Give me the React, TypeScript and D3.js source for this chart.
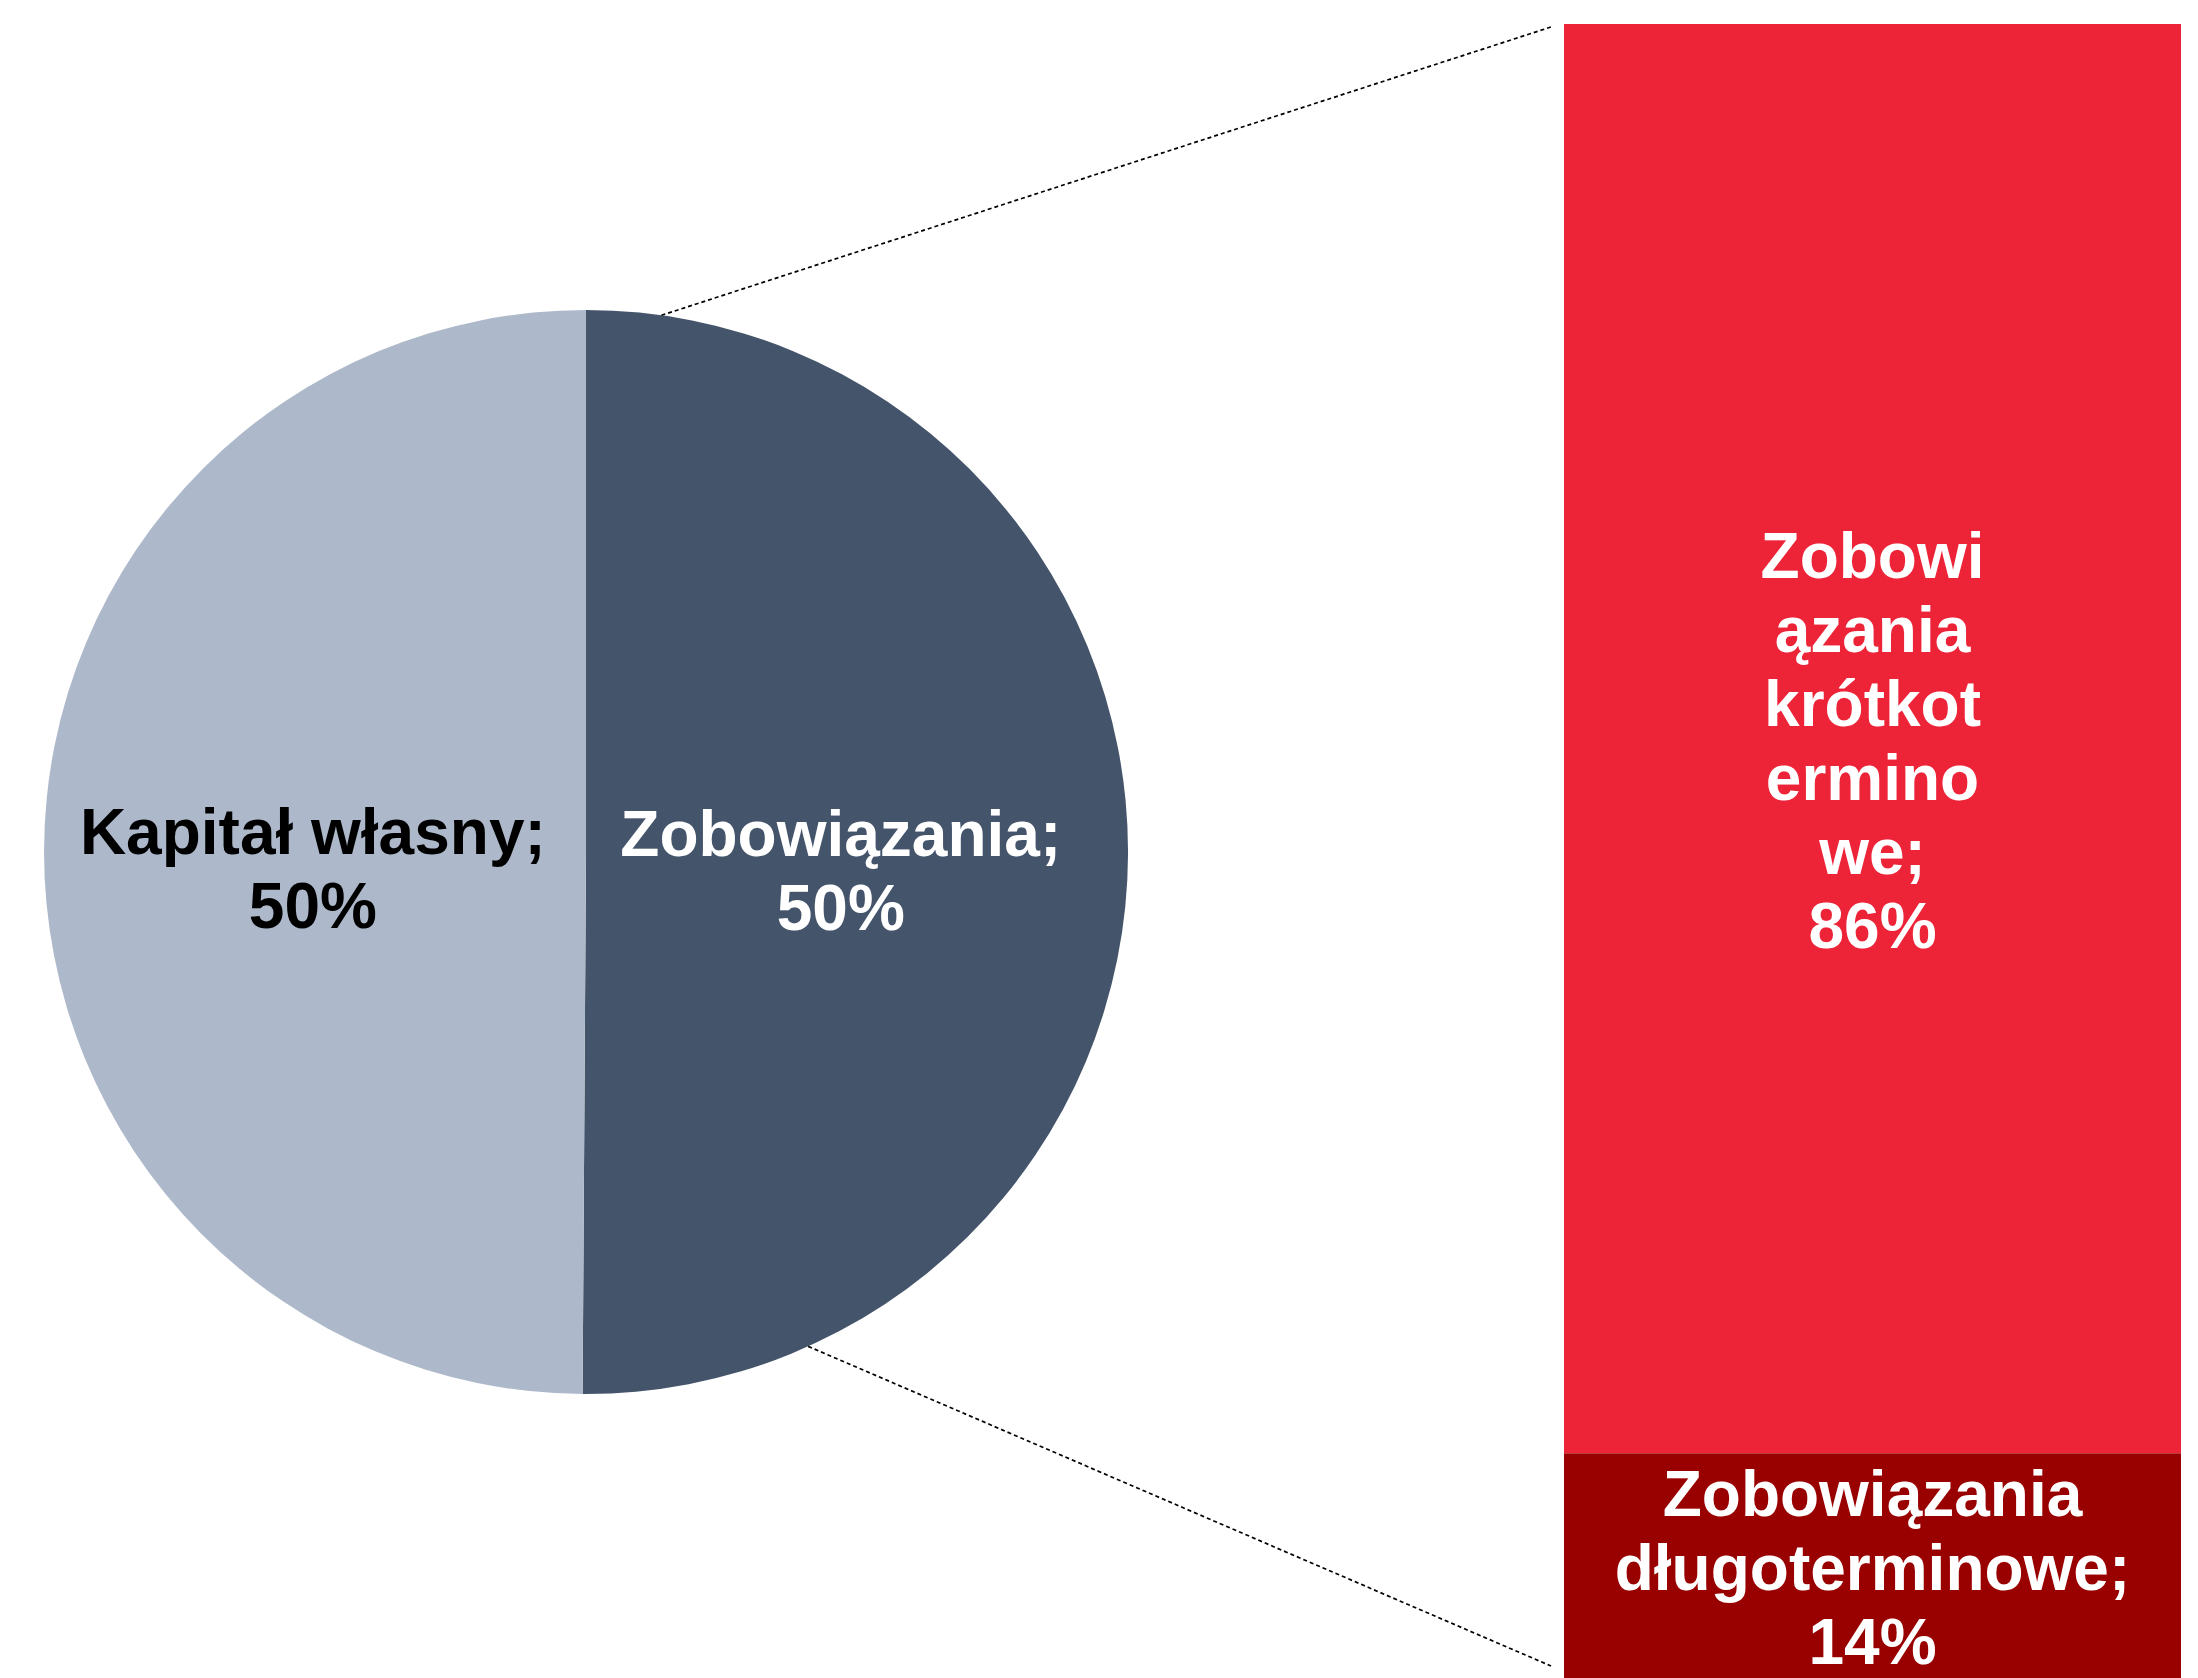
import React, { useEffect, useRef } from 'react'
import * as d3 from 'd3'

// pie: share of liabilities vs equity
const pieNames = ['Zobowiązania', 'Kapitał własny']
const pieValues = [50.1, 49.9]
const pieLabels = [['Zobowiązania;', '50%'], ['Kapitał własny;', '50%']]
const pieColors = ['#44546A', '#ADB9CA']
const pieTextColors = ['#FFFFFF', '#000000']

// bar: split of liabilities
const barNames = ['Zobowiązania krótkoterminowe', 'Zobowiązania długoterminowe']
const barValues = [86, 14]
const barLabels = [
  ['Zobowi', 'ązania', 'krótkot', 'ermino', 'we;', '86%'],
  ['Zobowiązania', 'długoterminowe;', '14%'],
]
const barColors = ['#ED2338', '#990000']

const W = 2198
const H = 1678
const FONT = '"Liberation Sans", Arial, Helvetica, sans-serif'

export default function App() {
  const ref = useRef<SVGSVGElement | null>(null)

  useEffect(() => {
    const svg = d3.select(ref.current)
    svg.selectAll('*').remove()

    const cx = 586
    const cy = 852
    const r = 542

    const pie = d3.pie<number>().sort(null).value((d) => d)
    const arcs = pie(pieValues)
    const arc = d3.arc<d3.PieArcDatum<number>>().innerRadius(0).outerRadius(r)

    const g = svg.append('g').attr('transform', `translate(${cx},${cy})`)
    g.selectAll('path.slice')
      .data(arcs)
      .enter().append('path')
      .attr('class', 'slice')
      .attr('d', arc)
      .attr('fill', (_, i) => pieColors[i])

    // labels sit roughly halfway out
    const labelRadius = [0.47 * r, 0.504 * r]
    const lineH = 74
    arcs.forEach((a, i) => {
      const [x, y] = d3.arc<d3.PieArcDatum<number>>()
        .innerRadius(labelRadius[i]).outerRadius(labelRadius[i])
        .centroid(a)
      const t = g.append('text')
        .attr('text-anchor', 'middle')
        .attr('font-family', FONT)
        .attr('font-weight', 'bold')
        .attr('font-size', 64)
        .attr('fill', pieTextColors[i])
      pieLabels[i].forEach((line, j) => {
        t.append('tspan').attr('x', x).attr('y', y + 3 + j * lineH).text(line)
      })
    })

    // stacked bar on the right
    const barLeft = 1564
    const barRight = 2181
    const yBar = d3.scaleLinear().domain([0, 100]).range([24, 1686])
    const stacked = d3.cumsum(barValues)
    const segs = barValues.map((v, i) => ({ v, y0: stacked[i] - v, y1: stacked[i], i }))

    svg.selectAll('rect.seg')
      .data(segs)
      .enter().append('rect')
      .attr('class', 'seg')
      .attr('x', barLeft)
      .attr('width', barRight - barLeft)
      .attr('y', (d) => yBar(d.y0))
      .attr('height', (d) => yBar(d.y1) - yBar(d.y0))
      .attr('fill', (d) => barColors[d.i])

    segs.forEach((s) => {
      const lines = barLabels[s.i]
      const mid = (yBar(s.y0) + yBar(s.y1)) / 2
      // keep the last line inside the page
      const firstBase = Math.min(
        mid - ((lines.length - 1) * lineH) / 2 + 24,
        H - 14 - (lines.length - 1) * lineH
      )
      const t = svg.append('text')
        .attr('text-anchor', 'middle')
        .attr('font-family', FONT)
        .attr('font-weight', 'bold')
        .attr('font-size', 64)
        .attr('fill', '#FFFFFF')
      lines.forEach((line, j) => {
        t.append('tspan')
          .attr('x', (barLeft + barRight) / 2)
          .attr('y', firstBase + j * lineH)
          .text(line)
      })
    })

    // dashed connectors from the liabilities slice to the bar
    const onCircle = (deg: number) => {
      const a = (deg * Math.PI) / 180
      return [cx + r * Math.sin(a), cy - r * Math.cos(a)]
    }
    const connectors = [
      { from: onCircle(8), to: [barLeft - 13, yBar(0) + 3] },
      { from: onCircle(155.8), to: [barLeft - 13, yBar(100) - 20] },
    ]
    svg.selectAll('line.conn')
      .data(connectors)
      .enter().append('line')
      .attr('class', 'conn')
      .attr('x1', (d) => d.from[0])
      .attr('y1', (d) => d.from[1])
      .attr('x2', (d) => d.to[0])
      .attr('y2', (d) => d.to[1])
      .attr('stroke', '#000')
      .attr('stroke-width', 1.7)
      .attr('stroke-dasharray', '4,3')
  }, [])

  return (
    <svg
      ref={ref}
      width={W}
      height={H}
      style={{ position: 'absolute', left: 0, top: 0, display: 'block', background: '#fff' }}
      aria-label={[...pieNames, ...barNames].join(', ')}
    />
  )
}
